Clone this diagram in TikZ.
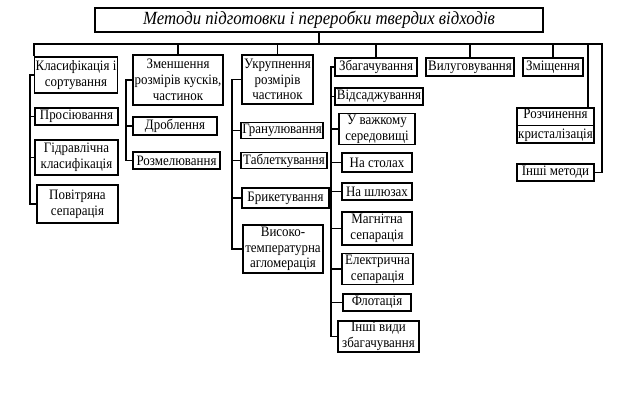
\documentclass[tikz,border=0pt]{standalone}
\usepackage{fontspec}
\setmainfont{Liberation Serif}[FakeStretch=0.9]
\usepackage{tikz}

\begin{document}
\begin{tikzpicture}[x=0.5pt,y=-0.5pt,line width=0.6pt,
  box/.style={draw,inner sep=0.5pt,align=center,font=\fontsize{7.2}{7.9}\selectfont},
  wh/.style 2 args={minimum width=#1*0.5pt,minimum height=#2*0.5pt},
  titlebox/.style={draw,line width=1pt,inner sep=0pt,font=\fontsize{9.3}{10}\selectfont\itshape}]
\useasboundingbox (0,0) rectangle (623,405);
% title and bus
\node[titlebox,wh={448}{24}] (title) at (319,20) {Методи підготовки і переробки твердих відходів};
\coordinate (corner) at (602,44);
\coordinate (rd) at (588,44);
% first level
\node[box,wh={82}{36}] (klas) at (76,75) {Класифікація і\\сортування};
\node[box,wh={90}{50}] (zmen) at (178,80) {Зменшення\\розмірів кусків,\\частинок};
\node[box,wh={71}{49}] (ukr) at (277.5,79.5) {Укрупнення\\розмірів\\частинок};
\node[box,wh={82}{18}] (zbag) at (376,67) {Збагачування};
\node[box,wh={88}{18}] (vylu) at (470,67) {Вилуговування};
\node[box,wh={60}{18}] (zmish) at (553,67) {Зміщення};
\node[box,wh={77}{35}] (rozch) at (555.5,125.5) {Розчинення\\[2pt]кристалізація};
\node[box,wh={77}{17}] (inshi) at (555.5,172.5) {Інші методи};
% classification
\node[box,wh={83}{17}] (pros) at (76.5,116.5) {Просіювання};
\node[box,wh={83}{35}] (gidr) at (76.5,157.5) {Гідравлічна\\класифікація};
\node[box,wh={81}{38}] (povit) at (77.5,204) {Повітряна\\сепарація};
% size reduction
\node[box,wh={84}{18}] (drob) at (175,126) {Дроблення};
\node[box,wh={87}{17}] (rozm) at (176.5,160.5) {Розмелювання};
% enlargement
\node[box,wh={82}{16}] (gran) at (282,130.5) {Гранулювання};
\node[box,wh={86}{16}] (tabl) at (284,160.5) {Таблеткування};
\node[box,wh={87}{20}] (bryk) at (285.5,198) {Брикетування};
\node[box,wh={80}{48}] (aglo) at (283,249) {Високо-\\температурна\\агломерація};
% enrichment
\node[box,wh={88}{17}] (vids) at (379,96.5) {Відсаджування};
\node[box,wh={76}{28}] (vazh) at (377,129) {У важкому\\середовищі};
\node[box,wh={70}{19}] (stol) at (377,162.5) {На столах};
\node[box,wh={70}{17}] (shlu) at (377,191.5) {На шлюзах};
\node[box,wh={70}{33}] (magn) at (377,228.5) {Магнітна\\сепарація};
\node[box,wh={71}{28}] (elek) at (377.5,269) {Електрична\\сепарація};
\node[box,wh={68}{17}] (flot) at (377,302.5) {Флотація};
\node[box,wh={81}{31}] (inzb) at (378.5,336.5) {Інші види\\збагачування};

\draw (rozch.west) -- (rozch.east);
\draw (title.south) -- (title.south |- corner);
\draw (klas.north west) |- (corner) |- (inshi.east);
\foreach \n in {zmen,ukr,zbag,vylu,zmish}
  \draw (\n.north) -- (\n.north |- corner);
\draw (rd) -- (rd |- rozch.north);
% spines
\coordinate (s1) at (30,0);
\coordinate (s2) at (126,0);
\coordinate (s3) at (232,0);
\coordinate (s4) at (331,0);
\draw (klas.west) -- (klas.west -| s1) |- (povit.west);
\foreach \n in {pros,gidr}
  \draw (\n.west) -- (\n.west -| s1);
\draw (zmen.west) -- (zmen.west -| s2) |- (rozm.west);
\draw (drob.west) -- (drob.west -| s2);
\draw (ukr.west) -- (ukr.west -| s3) |- (aglo.west);
\foreach \n in {gran,tabl,bryk}
  \draw (\n.west) -- (\n.west -| s3);
\draw (zbag.west) -- (zbag.west -| s4) |- (inzb.west);
\foreach \n in {vids,vazh,stol,shlu,magn,elek,flot}
  \draw (\n.west) -- (\n.west -| s4);
\end{tikzpicture}
\end{document}
